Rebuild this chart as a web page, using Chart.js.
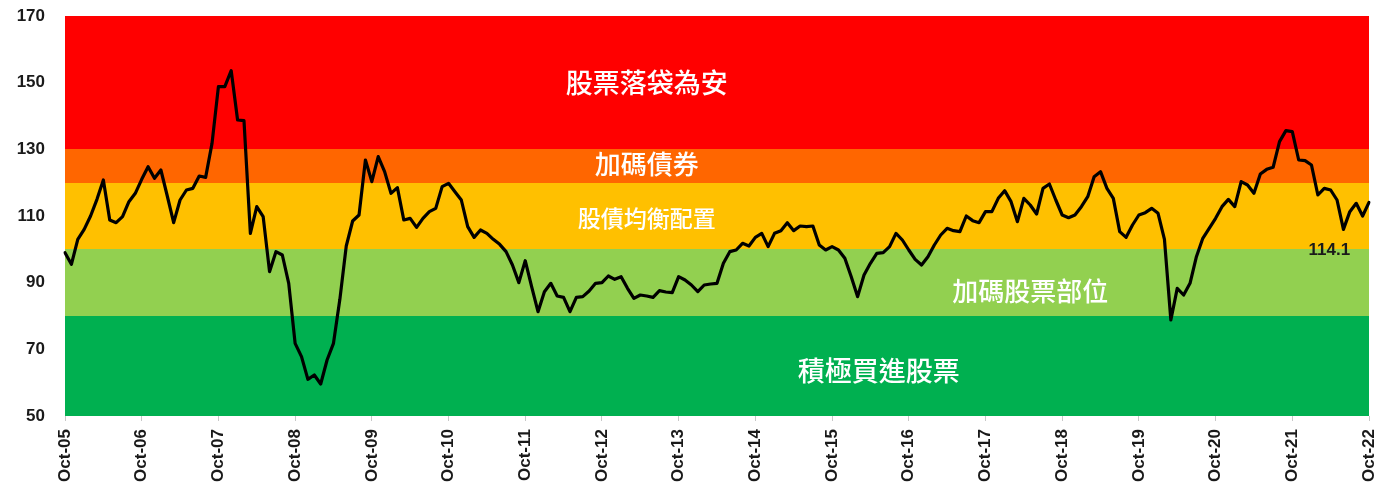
<!DOCTYPE html>
<html>
<head>
<meta charset="utf-8">
<script src="https://cdn.jsdelivr.net/npm/chart.js@4"></script>
<style>
  html, body { margin: 0; padding: 0; background: #fff; }
  #wrap { width: 1396px; height: 495px; }
</style>
</head>
<body>
<div id="wrap"><canvas id="chart" width="1396" height="495"></canvas></div>
<script>
// Monthly index, Oct-05 .. Oct-22
const startYear = 2005;
const monthNames = ['Oct', 'Nov', 'Dec', 'Jan', 'Feb', 'Mar', 'Apr', 'May', 'Jun', 'Jul', 'Aug', 'Sep'];

const indexValues = [
  99, 95.5, 103, 106, 110, 115, 120.8, 108.8, 108, 109.8, 114.3, 116.8,
  121, 124.8, 121.3, 123.8, 116, 108, 114.8, 117.8, 118.3, 122, 121.6, 131.8,
  148.8, 148.8, 153.6, 138.8, 138.6, 104.8, 112.8, 109.8, 93.3, 99.3, 98.3, 89.8,
  71.8, 67.8, 61, 62.3, 59.6, 66.8, 71.8, 85, 101, 108.5, 110.3, 126.8,
  120.3, 127.8, 123.3, 116.8, 118.5, 108.8, 109.3, 106.6, 109.3, 111.3, 112.3, 118.8,
  119.8, 117.3, 114.8, 106.8, 103.6, 105.8, 104.8, 103, 101.5, 99.3, 95.3, 90,
  96.6, 88.8, 81.3, 87.3, 89.8, 86, 85.6, 81.3, 85.6, 85.8, 87.5, 89.8,
  90, 92, 91, 91.8, 88.3, 85.3, 86.3, 86, 85.6, 87.6, 87.2, 87,
  91.8, 90.8, 89.3, 87.3, 89.3, 89.6, 89.8, 95.8, 99.3, 99.8, 101.8, 101,
  103.6, 104.8, 100.8, 104.8, 105.6, 108, 105.6, 107, 106.8, 107, 101.3, 99.8,
  100.8, 99.8, 97.3, 91.8, 85.8, 92.3, 95.8, 98.8, 99, 100.8, 104.8, 102.8,
  99.8, 97, 95.3, 97.8, 101.3, 104.3, 106.3, 105.6, 105.3, 110, 108.6, 108,
  111.3, 111.3, 115.3, 117.6, 114.3, 108.3, 115.3, 113.3, 110.6, 118.3, 119.6, 114.8,
  110.3, 109.5, 110.3, 112.8, 115.8, 121.8, 123.3, 118.3, 115.3, 105.3, 103.6, 107.3,
  110.3, 111, 112.3, 110.8, 103, 78.8, 88.3, 86.3, 89.8, 97.8, 103.3, 106.3,
  109.3, 112.8, 115, 112.8, 120.3, 119.3, 116.8, 122.6, 124, 124.6, 132.3, 135.6,
  135.3, 126.8, 126.6, 125.3, 116.3, 118.3, 117.8, 114.8, 106, 111.3, 113.8, 110,
  114.1
];

const months = indexValues.map((v, i) => {
  const m = i % 12;
  const yr = startYear + Math.floor((i + 9) / 12);
  return monthNames[m] + '-' + String(yr % 100).padStart(2, '0');
});

const yTicks = [50, 70, 90, 110, 130, 150, 170];

// Background zones
const bandFrom = [50, 80, 100, 120, 130];
const bandTo = [80, 100, 120, 130, 170];
const bandColors = ['#00b050', '#92d050', '#ffc000', '#ff6600', '#ff0000'];

const zoneNames = ['股票落袋為安', '加碼債券', '股債均衡配置', '加碼股票部位', '積極買進股票'];
const lastLabel = '114.1';

// Where the zone captions sit (index on x, value on y) and their sizes
const zoneStyle = [
  { x: 91, y: 149.9, size: 27 },
  { x: 91, y: 125.6, size: 26 },
  { x: 91, y: 109.4, size: 23 },
  { x: 151, y: 87.5, size: 26 },
  { x: 127.3, y: 63.5, size: 27 }
];

const axisFont = "'Liberation Sans', Arial, sans-serif";
const cjkFont = "'Noto Sans CJK TC', 'Noto Sans CJK SC', sans-serif";

const bandPlugin = {
  id: 'bands',
  beforeDatasetsDraw(chart) {
    const { ctx, chartArea, scales: { y } } = chart;
    ctx.save();
    bandFrom.forEach((from, i) => {
      const top = Math.round(y.getPixelForValue(bandTo[i]));
      const bottom = Math.round(y.getPixelForValue(from));
      ctx.fillStyle = bandColors[i];
      ctx.fillRect(chartArea.left, top, chartArea.right - chartArea.left, bottom - top);
    });
    ctx.fillStyle = '#ffffff';
    ctx.textAlign = 'center';
    ctx.textBaseline = 'middle';
    zoneNames.forEach((name, i) => {
      const st = zoneStyle[i];
      ctx.font = `500 ${st.size}px ${cjkFont}`;
      ctx.fillText(name, chart.scales.x.getPixelForValue(st.x), y.getPixelForValue(st.y));
    });
    ctx.restore();
  },
  afterDatasetsDraw(chart) {
    const { ctx, scales: { x, y } } = chart;
    ctx.save();
    ctx.fillStyle = '#1a1a1a';
    ctx.textAlign = 'center';
    ctx.textBaseline = 'middle';
    ctx.font = `bold 17px ${axisFont}`;
    ctx.fillText(lastLabel, x.getPixelForValue(197.8), y.getPixelForValue(99.8));
    ctx.restore();
  }
};

new Chart(document.getElementById('chart'), {
  type: 'line',
  data: {
    labels: months,
    datasets: [{
      data: indexValues,
      borderColor: '#000',
      borderWidth: 3.2,
      pointRadius: 0,
      tension: 0,
      borderJoinStyle: 'round',
      borderCapStyle: 'round'
    }]
  },
  options: {
    responsive: false,
    animation: false,
    layout: { padding: { top: 16, right: 27, left: 0, bottom: 0 } },
    plugins: {
      legend: { display: false },
      tooltip: { enabled: false }
    },
    scales: {
      x: {
        offset: false,
        border: { display: false },
        grid: {
          display: true,
          drawOnChartArea: false,
          tickLength: 5,
          color: '#c8c8c8'
        },
        ticks: {
          autoSkip: false,
          maxRotation: 90,
          minRotation: 90,
          padding: 8,
          color: '#1a1a1a',
          font: { family: axisFont, size: 17, weight: 'bold' },
          callback: function(val, idx) {
            return idx % 12 === 0 ? months[idx] : null;
          }
        },
        afterFit: s => {
          s.height = 79;
          s.paddingLeft = 0;
          s.paddingRight = 0;
        }
      },
      y: {
        min: 50,
        max: 170,
        border: { display: false },
        grid: { display: false, drawTicks: false },
        afterBuildTicks: s => { s.ticks = yTicks.map(v => ({ value: v })); },
        ticks: {
          padding: 20,
          color: '#1a1a1a',
          font: { family: axisFont, size: 17, weight: 'bold' }
        },
        afterFit: s => {
          s.width = 65;
          s.paddingTop = 0;
          s.paddingBottom = 0;
        }
      }
    }
  },
  plugins: [bandPlugin]
});
</script>
</body>
</html>
